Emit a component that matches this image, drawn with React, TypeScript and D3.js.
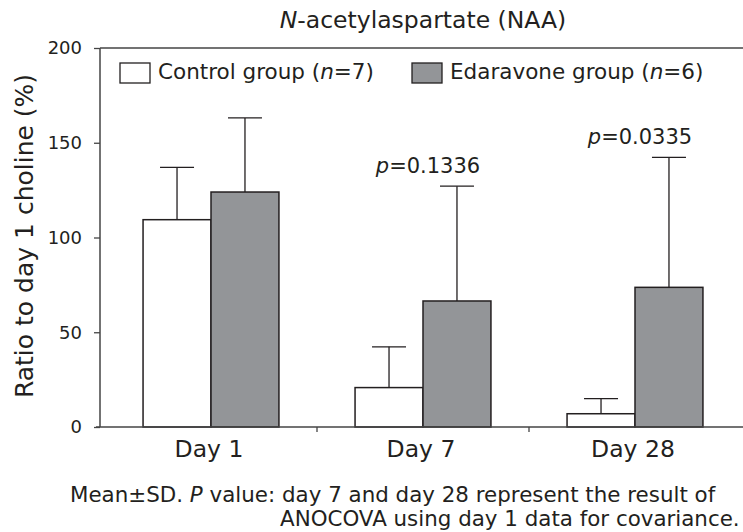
import { useEffect, useRef } from 'react';
import * as d3 from 'd3';

const days = ['Day 1', 'Day 7', 'Day 28'];
const groups = ['control', 'edaravone'];
const controlMean = [109.4, 20.8, 7.0];
const controlSD = [27.6, 21.5, 8.0];
const edaravoneMean = [124.0, 66.5, 73.7];
const edaravoneSD = [39.1, 60.6, 68.6];
const pValues = ['', '0.1336', '0.0335'];
const yTicks = [0, 50, 100, 150, 200];

const INK = '#231f20';
const GRAY = '#939598';
const FONT = '"DejaVu Sans", Verdana, sans-serif';

const NaaChart = () => {
  const chartRef = useRef<SVGSVGElement>(null);

  useEffect(() => {
    if (!chartRef.current) return;
    const svg = d3.select(chartRef.current);
    svg.selectAll('*').remove();

    const width = 743;
    const height = 532;
    const left = 100;
    const right = 743;

    const y = d3.scaleLinear().domain([0, 200]).range([427, 48]);
    const x = d3.scaleBand().domain(days).range([105, 741]).padding(0);
    const xi = d3
      .scaleBand()
      .domain(groups)
      .range([0, x.bandwidth()])
      .paddingInner(0)
      .paddingOuter(0.56);

    svg.attr('width', width).attr('height', height).attr('font-family', FONT);

    // title
    const title = svg
      .append('text')
      .attr('x', 423)
      .attr('y', 27.5)
      .attr('text-anchor', 'middle')
      .attr('font-size', 23.5)
      .attr('fill', INK);
    title.append('tspan').attr('font-style', 'italic').text('N');
    title.append('tspan').text('-acetylaspartate (NAA)');

    // top frame line at 200
    svg
      .append('line')
      .attr('x1', left)
      .attr('x2', right)
      .attr('y1', y(200))
      .attr('y2', y(200))
      .attr('stroke', '#444')
      .attr('stroke-width', 1.5);

    const rows = days.map((d, i) => ({
      day: d,
      bars: [
        { key: 'control', mean: controlMean[i], sd: controlSD[i], fill: '#ffffff' },
        { key: 'edaravone', mean: edaravoneMean[i], sd: edaravoneSD[i], fill: GRAY },
      ],
      p: pValues[i],
    }));

    const g = svg
      .selectAll('.day')
      .data(rows)
      .enter()
      .append('g')
      .attr('class', 'day')
      .attr('transform', (d) => `translate(${x(d.day)},0)`);

    const bar = g
      .selectAll('.bar')
      .data((d) => d.bars)
      .enter()
      .append('g')
      .attr('class', 'bar');

    // error whiskers (upper only)
    bar
      .append('line')
      .attr('x1', (d) => (xi(d.key) || 0) + xi.bandwidth() / 2)
      .attr('x2', (d) => (xi(d.key) || 0) + xi.bandwidth() / 2)
      .attr('y1', (d) => y(d.mean))
      .attr('y2', (d) => y(d.mean + d.sd))
      .attr('stroke', INK)
      .attr('stroke-width', 1.3);
    bar
      .append('line')
      .attr('x1', (d) => (xi(d.key) || 0) + xi.bandwidth() / 2 - 17)
      .attr('x2', (d) => (xi(d.key) || 0) + xi.bandwidth() / 2 + 17)
      .attr('y1', (d) => y(d.mean + d.sd))
      .attr('y2', (d) => y(d.mean + d.sd))
      .attr('stroke', INK)
      .attr('stroke-width', 1.3);

    bar
      .append('rect')
      .attr('x', (d) => xi(d.key) || 0)
      .attr('y', (d) => y(d.mean))
      .attr('width', xi.bandwidth())
      .attr('height', (d) => y(0) - y(d.mean))
      .attr('fill', (d) => d.fill)
      .attr('stroke', INK)
      .attr('stroke-width', 1.5);

    // p values
    const pl = g
      .filter((d) => d.p !== '')
      .append('text')
      .attr('x', x.bandwidth() / 2 + 5)
      .attr('y', (d) => y(d.bars[1].mean + d.bars[1].sd) - 13)
      .attr('text-anchor', 'middle')
      .attr('font-size', 21)
      .attr('fill', INK);
    pl.append('tspan').attr('font-style', 'italic').text('p');
    pl.append('tspan').text((d) => `=${d.p}`);

    // y axis
    const yAxis = svg
      .append('g')
      .attr('transform', `translate(${left},0)`)
      .call(d3.axisLeft(y).tickValues(yTicks).tickSize(6).tickPadding(12));
    yAxis.select('.domain').attr('stroke', '#444').attr('stroke-width', 1.5).attr('d', `M0,${y(0)}V${y(200)}`);
    yAxis.selectAll('.tick line').attr('stroke', '#444').attr('stroke-width', 1.3);
    yAxis
      .selectAll('.tick text')
      .attr('font-size', 18)
      .attr('font-family', FONT)
      .attr('fill', INK);

    // x axis
    svg
      .append('line')
      .attr('x1', left - 4)
      .attr('x2', right)
      .attr('y1', y(0))
      .attr('y2', y(0))
      .attr('stroke', '#444')
      .attr('stroke-width', 1.5);
    svg
      .selectAll('.xtick')
      .data(days.slice(1))
      .enter()
      .append('line')
      .attr('class', 'xtick')
      .attr('x1', (d) => x(d) || 0)
      .attr('x2', (d) => x(d) || 0)
      .attr('y1', y(0))
      .attr('y2', y(0) + 5)
      .attr('stroke', '#444')
      .attr('stroke-width', 1.3);
    svg
      .selectAll('.xlabel')
      .data(days)
      .enter()
      .append('text')
      .attr('class', 'xlabel')
      .attr('x', (d) => (x(d) || 0) + x.bandwidth() / 2 - 2)
      .attr('y', 457)
      .attr('text-anchor', 'middle')
      .attr('font-size', 23.5)
      .attr('fill', INK)
      .text((d) => d);

    // y label
    svg
      .append('text')
      .attr('transform', 'translate(33,236) rotate(-90)')
      .attr('text-anchor', 'middle')
      .attr('font-size', 25)
      .attr('fill', INK)
      .text('Ratio to day 1 choline (%)');

    // legend
    const legend = [
      { x: 120, fill: '#ffffff', label: 'Control group (', n: '7' },
      { x: 412, fill: GRAY, label: 'Edaravone group (', n: '6' },
    ];
    const lg = svg
      .selectAll('.legend')
      .data(legend)
      .enter()
      .append('g')
      .attr('class', 'legend')
      .attr('transform', (d) => `translate(${d.x},0)`);
    lg.append('rect')
      .attr('x', 0)
      .attr('y', 63)
      .attr('width', 30)
      .attr('height', 20)
      .attr('fill', (d) => d.fill)
      .attr('stroke', INK)
      .attr('stroke-width', 1.3);
    const lt = lg
      .append('text')
      .attr('x', 38)
      .attr('y', 79)
      .attr('font-size', 21.5)
      .attr('fill', INK);
    lt.append('tspan').text((d) => d.label);
    lt.append('tspan').attr('font-style', 'italic').text('n');
    lt.append('tspan').text((d) => `=${d.n})`);

    // caption
    const c1 = svg
      .append('text')
      .attr('x', 70)
      .attr('y', 502)
      .attr('font-size', 21.4)
      .attr('fill', INK);
    c1.append('tspan').text('Mean±SD. ');
    c1.append('tspan').attr('font-style', 'italic').text('P');
    c1.append('tspan').text(' value: day 7 and day 28 represent the result of');
    svg
      .append('text')
      .attr('x', 280)
      .attr('y', 526)
      .attr('font-size', 21.4)
      .attr('fill', INK)
      .text('ANOCOVA using day 1 data for covariance.');
  }, []);

  return (
    <div style={{ position: 'absolute', left: 0, top: 0, background: '#fff' }}>
      <svg ref={chartRef} style={{ display: 'block' }}></svg>
    </div>
  );
};

export default NaaChart;
